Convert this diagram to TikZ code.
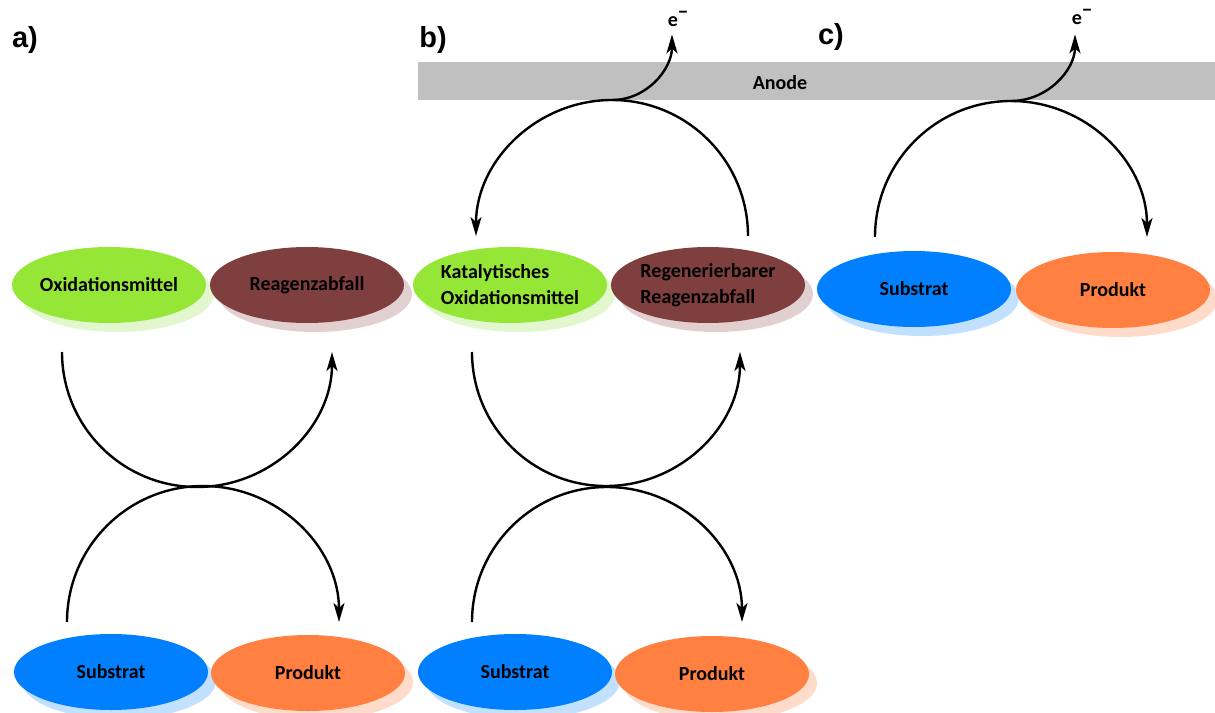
\documentclass[tikz,border=0pt]{standalone}
\usepackage{fontspec}
\setmainfont{Carlito}
\newfontfamily\labelfont{Liberation Sans}
\usetikzlibrary{shapes.geometric,shadows,arrows.meta}
\definecolor{oxgreen}{HTML}{96E637}
\definecolor{oxgreenlt}{HTML}{E3F7CF}
\definecolor{wastebrown}{HTML}{7F3F3F}
\definecolor{wastebrownlt}{HTML}{E2CFCF}
\definecolor{subblue}{HTML}{0080FF}
\definecolor{subbluelt}{HTML}{C2E0FF}
\definecolor{prodorange}{HTML}{FF8040}
\definecolor{prodorangelt}{HTML}{FFDCCA}
\definecolor{anodegray}{HTML}{C0C0C0}
\tikzset{
  blob/.style={ellipse, minimum width=194pt, minimum height=76pt,
    inner xsep=-20pt, inner ysep=0pt, align=left,
    font=\bfseries\fontsize{20}{26}\selectfont},
  oxid/.style={blob, fill=oxgreen,
    drop shadow={shadow xshift=8pt, shadow yshift=-9pt, fill=oxgreenlt, opacity=1}},
  waste/.style={blob, fill=wastebrown,
    drop shadow={shadow xshift=8pt, shadow yshift=-9pt, fill=wastebrownlt, opacity=1}},
  subs/.style={blob, fill=subblue,
    drop shadow={shadow xshift=8pt, shadow yshift=-9pt, fill=subbluelt, opacity=1}},
  prod/.style={blob, fill=prodorange,
    drop shadow={shadow xshift=8pt, shadow yshift=-9pt, fill=prodorangelt, opacity=1}},
  cycle/.style={line width=2.4pt, -{Stealth[length=19pt, width=11pt, inset=5pt]}},
  panel/.style={font=\labelfont\bfseries\fontsize{29}{32}\selectfont},
  txt/.style={font=\bfseries\fontsize{20}{24}\selectfont}
}
\begin{document}
\begin{tikzpicture}[x=1pt, y=1pt]
      \useasboundingbox (0,0) rectangle (1215,-712);
      % anode
      \node[fill=anodegray, minimum width=797pt, minimum height=38pt, inner sep=0pt]
        (anodebar) at (816.5,-81) {};
      \node[txt] (anode) at (780,-83) {Anode};
      % panel labels
      \node[panel] (pa) at (25,-40) {a)};
      \node[panel] (pb) at (433,-40) {b)};
      \node[panel] (pc) at (831,-37) {c)};
      % a)
      \node[oxid] (aox) at (109,-285) {Oxidationsmittel};
      \node[waste] (awaste) at (307,-285) {Reagenzabfall};
      \node[subs] (asub) at (111,-672) {Substrat};
      \node[prod] (aprod) at (308,-673) {Produkt};
      % b)
      \node[oxid] (box) at (510,-285) {Katalytisches\\Oxidationsmittel};
      \node[waste] (bwaste) at (708,-285) {Regenerierbarer\\Reagenzabfall};
      \node[subs] (bsub) at (515,-672) {Substrat};
      \node[prod] (bprod) at (712,-674) {Produkt};
      % c)
      \node[subs] (csub) at (914,-289) {Substrat};
      \node[prod] (cprod) at (1113,-290) {Produkt};
      % electrons
      \node[txt] (eb) at (678,-19) {e\raisebox{0.42em}{−}};
      \node[txt] (ec) at (1082,-17) {e\raisebox{0.42em}{−}};
      % arc ends
      \coordinate (aoxout) at (62,-352);
      \coordinate (asubout) at (67,-622);
      \coordinate (boxout) at (472,-352);
      \coordinate (bsubout) at (472,-622);
      \coordinate (bwasteout) at (748,-236);
      \coordinate (csubout) at (875,-237);
      \begin{scope}[cycle]
        \draw (aoxout) arc[start angle=180, end angle=360, radius=135];
        \draw (asubout) arc[start angle=180, end angle=0, radius=136];
        \draw (boxout) arc[start angle=180, end angle=360, radius=134];
        \draw (bsubout) arc[start angle=180, end angle=0, radius=135];
        \draw (bwasteout) arc[start angle=0, end angle=90, radius=136]
          coordinate (btop) arc[start angle=90, end angle=180, radius=136];
        \draw (csubout) arc[start angle=180, end angle=90, radius=136]
          coordinate (ctop) arc[start angle=90, end angle=0, radius=136];
        \draw (btop) to[out=0, in=-90] ([xshift=-6pt, yshift=-4pt]eb.south);
        \draw (ctop) to[out=0, in=-90] ([xshift=-7pt, yshift=-6pt]ec.south);
      \end{scope}
    \end{tikzpicture}
\end{document}
